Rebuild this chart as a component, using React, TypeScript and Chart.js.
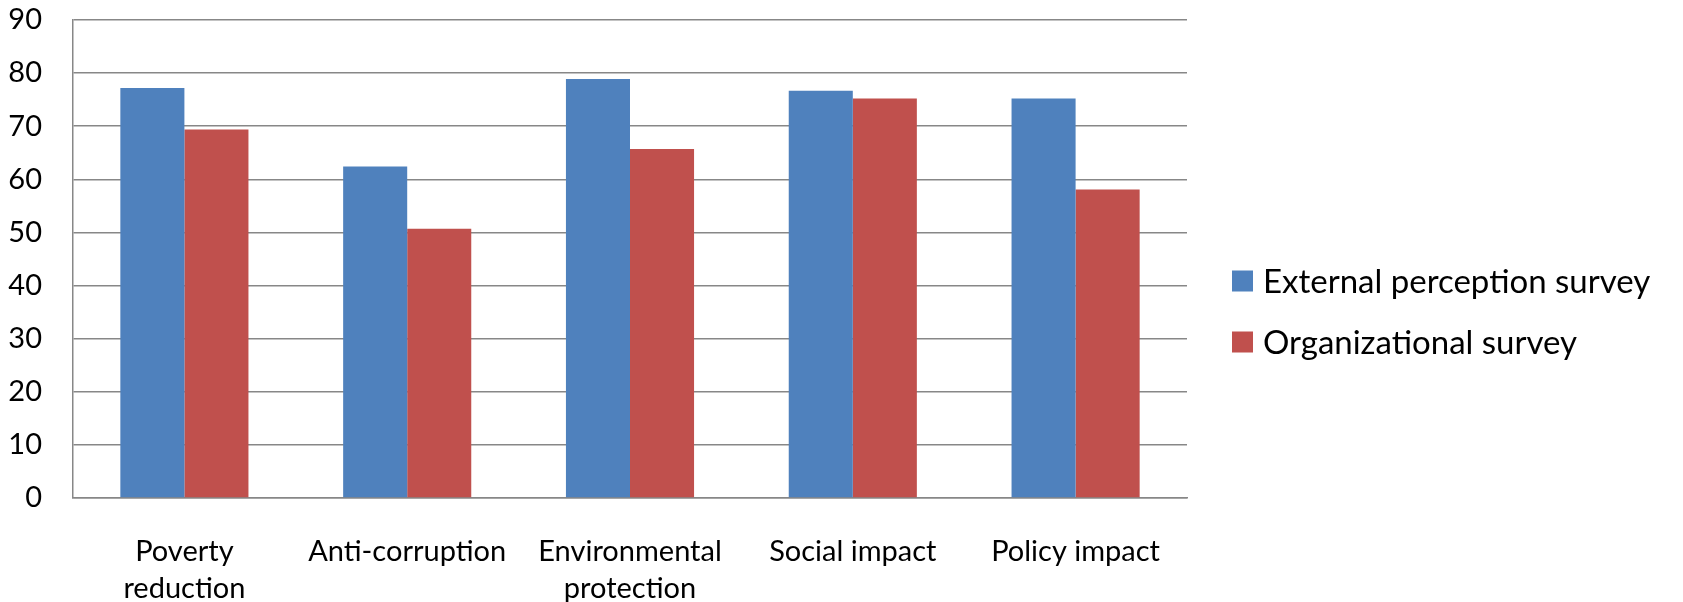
import React, { useEffect, useRef } from "react";
import { Chart, registerables } from "chart.js";

Chart.register(...registerables);

const categories: (string | string[])[] = [
  ["Poverty", "reduction"],
  "Anti-corruption",
  ["Environmental", "protection"],
  "Social impact",
  "Policy impact",
];
const seriesNames = ["External perception survey", "Organizational survey"];
const externalValues = [77.2, 62.4, 78.9, 76.7, 75.2];
const organizationalValues = [69.4, 50.7, 65.7, 75.2, 58.1];
const seriesColors = ["#4F81BD", "#C0504D"];
const yMin = 0;
const yMax = 90;
const yStep = 10;

const FONT = "Lato, 'Noto Sans', sans-serif";

const legendPlugin = {
  id: "sideLegend",
  afterDraw(chart: any) {
    const { ctx, chartArea } = chart;
    ctx.save();
    ctx.font = `33px ${FONT}`;
    ctx.textBaseline = "middle";
    ctx.textAlign = "left";
    const rows = [261, 322];
    chart.data.datasets.forEach((ds: any, i: number) => {
      const y = chartArea.top + rows[i];
      const x = chartArea.right + 45;
      ctx.fillStyle = ds.backgroundColor;
      ctx.fillRect(x, y - 10.5, 21, 21);
      ctx.fillStyle = "#000";
      ctx.fillText(ds.label, x + 31, y + 1);
    });
    ctx.restore();
  },
};

export default function App() {
  const ref = useRef<HTMLCanvasElement | null>(null);
  useEffect(() => {
    if (!ref.current) return;
    const chart = new Chart(ref.current, {
      type: "bar",
      data: {
        labels: categories as any,
        datasets: [
          {
            label: seriesNames[0],
            data: externalValues,
            backgroundColor: seriesColors[0],
            borderWidth: 0,
            categoryPercentage: 0.575,
            barPercentage: 1,
          },
          {
            label: seriesNames[1],
            data: organizationalValues,
            backgroundColor: seriesColors[1],
            borderWidth: 0,
            categoryPercentage: 0.575,
            barPercentage: 1,
          },
        ],
      },
      options: {
        animation: false,
        responsive: false,
        maintainAspectRatio: false,
        layout: { padding: { top: 20, right: 496, left: 0, bottom: 0 } },
        plugins: {
          legend: { display: false },
          tooltip: { enabled: false },
        },
        scales: {
          x: {
            grid: { display: false, drawTicks: false },
            border: { display: true, color: "#878787", width: 1.5 },
            ticks: {
              color: "#000",
              padding: 35.5,
              font: { family: FONT, size: 29, lineHeight: 37 / 29 },
              maxRotation: 0,
              autoSkip: false,
            },
            afterFit: (s: any) => {
              s.height = 104;
            },
          },
          y: {
            min: yMin,
            max: yMax,
            grid: { color: "#878787", lineWidth: 1.5, drawTicks: false },
            border: { display: true, color: "#878787", width: 1.5 },
            ticks: {
              stepSize: yStep,
              color: "#000",
              padding: 31,
              font: { family: FONT, size: 29 },
            },
            afterFit: (s: any) => {
              s.width = 73;
              s.paddingTop = 0;
              s.paddingBottom = 0;
            },
          },
        },
      },
      plugins: [legendPlugin],
    });
    return () => chart.destroy();
  }, []);
  return (
    <div style={{ position: "fixed", left: 0, top: 0, width: 1683, height: 602, background: "#fff" }}>
      <canvas ref={ref} width={1683} height={602} style={{ width: 1683, height: 602 }} />
    </div>
  );
}
